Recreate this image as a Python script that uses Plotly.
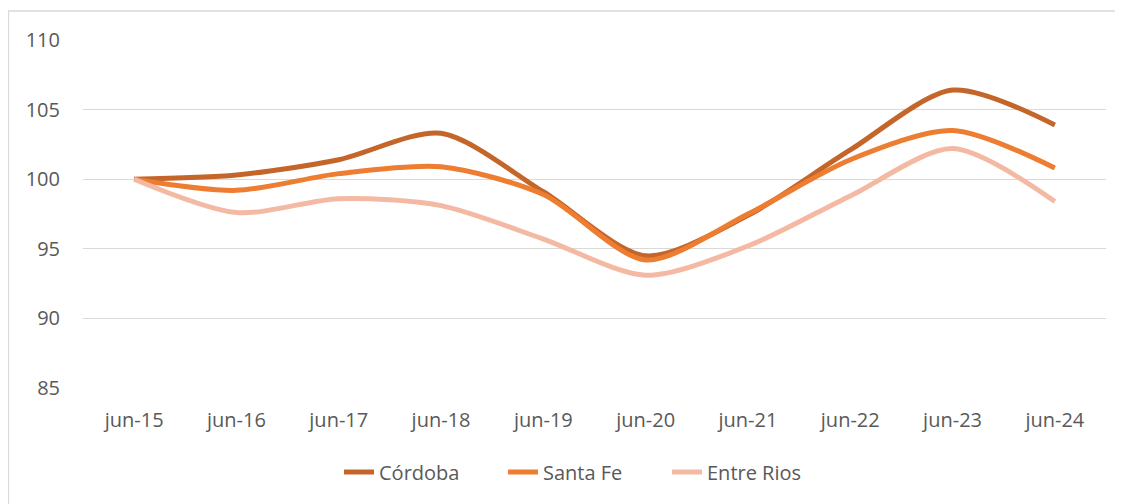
import plotly.graph_objects as go

categories = ["jun-15", "jun-16", "jun-17", "jun-18", "jun-19", "jun-20", "jun-21", "jun-22", "jun-23", "jun-24"]
cordoba = [100.0, 100.3, 101.4, 103.3, 99.1, 94.5, 97.4, 102.1, 106.4, 103.9]
santa_fe = [100.0, 99.2, 100.4, 100.9, 98.9, 94.2, 97.5, 101.4, 103.5, 100.8]
entre_rios = [100.0, 97.6, 98.6, 98.1, 95.7, 93.1, 95.2, 98.8, 102.2, 98.4]
y_ticks = [85, 90, 95, 100, 105, 110]

series = [
    ("Córdoba", cordoba, "#C4652A"),
    ("Santa Fe", santa_fe, "#ED7D31"),
    ("Entre Rios", entre_rios, "#F4B9A3"),
]

fig = go.Figure()
for name, vals, color in series:
    fig.add_trace(go.Scatter(
        x=categories, y=vals, name=name, mode="lines",
        line=dict(color=color, width=5, shape="spline", smoothing=0.8),
    ))

# page has an 8px body margin, so the figure is sized and placed to compensate
W, H = 1115, 496
L, R, T, B = 75, 17, 32, 116
pw, ph = W - L - R, H - T - B

font_family = "Open Sans, Lato, sans-serif"
fig.update_layout(
    width=W, height=H,
    margin=dict(l=L, r=R, t=T, b=B),
    paper_bgcolor="white", plot_bgcolor="white",
    font=dict(family=font_family, size=20, color="#595959"),
    showlegend=True,
    legend=dict(orientation="h", x=(331 - L) / pw, xanchor="left",
                y=(ph - (464 - T)) / ph, yanchor="middle",
                font=dict(size=20, color="#595959"), entrywidth=119, tracegroupgap=0),
    xaxis=dict(type="category", range=[-0.5, 9.5], showgrid=False, showline=False,
               zeroline=False, ticks="", ticklabelstandoff=18),
    yaxis=dict(range=[85, 110], tickvals=y_ticks, showgrid=True, gridcolor="#D9D9D9",
               gridwidth=1.3, zeroline=False, showline=False, ticks="", ticklabelstandoff=22),
    shapes=[dict(type="rect", xref="paper", yref="paper",
                 x0=(0.5 - L) / pw, x1=(W + 10 - L) / pw,
                 y0=(ph - (H + 10 - T)) / ph, y1=(ph - (3 - T)) / ph,
                 line=dict(color="#D9D9D9", width=1.3), fillcolor="rgba(0,0,0,0)", layer="below")],
)

fig.write_html("out.html")
